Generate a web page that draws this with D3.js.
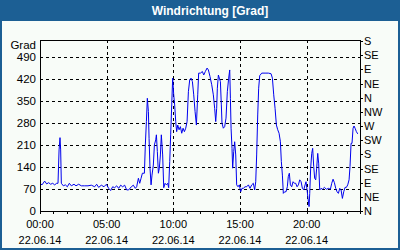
<!DOCTYPE html>
<html lang="de">
<head>
<meta charset="UTF-8">
<title>Windrichtung</title>
<script src="https://d3js.org/d3.v7.min.js"></script>
<style>
  body { margin: 0; background: #fff; }
  svg text { font-family: "Liberation Sans", Arial, sans-serif; fill: #000; }
  .grid line { stroke: #000; stroke-dasharray: 3,3; shape-rendering: crispEdges; }
  .grid .domain { display: none; }
  .axis .domain, .axis line { stroke: #000; shape-rendering: crispEdges; }
</style>
</head>
<body>
<script>
// Stunden (22.06.14) und Windrichtung in Grad
const hours = [0, 0.15, 0.35, 0.5, 0.65, 0.8, 0.95, 1.1, 1.25, 1.35, 1.43, 1.5, 1.55, 1.6, 1.75, 1.9,
  2.05, 2.2, 2.35, 2.55, 2.7, 2.9, 3.1, 3.35, 3.6, 3.85, 4.1, 4.25, 4.4, 4.6, 4.8, 4.98, 5.15, 5.3,
  5.45, 5.6, 5.75, 5.9, 6.05, 6.2, 6.35, 6.5, 6.65, 6.85, 7.0, 7.15, 7.25, 7.38, 7.48, 7.58, 7.68,
  7.83, 7.9, 7.98, 8.05, 8.13, 8.18, 8.25, 8.33, 8.4, 8.5, 8.58, 8.68, 8.73, 8.8, 8.88, 8.95, 9.03,
  9.1, 9.2, 9.28, 9.38, 9.48, 9.58, 9.65, 9.73, 9.8, 9.88, 9.95, 10.03, 10.1, 10.18, 10.25, 10.33,
  10.43, 10.53, 10.63, 10.73, 10.83, 10.93, 11.03, 11.13, 11.23, 11.33, 11.43, 11.53, 11.63, 11.73,
  11.83, 11.9, 12.03, 12.18, 12.28, 12.4, 12.53, 12.63, 12.75, 12.88, 13.0, 13.1, 13.18, 13.25,
  13.3, 13.38, 13.45, 13.53, 13.6, 13.65, 13.75, 13.85, 13.95, 14.05, 14.15, 14.23, 14.28, 14.33,
  14.4, 14.45, 14.53, 14.6, 14.68, 14.75, 14.85, 14.95, 15.05, 15.15, 15.25, 15.38, 15.5, 15.63,
  15.75, 15.88, 16.0, 16.1, 16.18, 16.25, 16.33, 16.4, 16.48, 16.63, 16.88, 17.13, 17.33, 17.43,
  17.53, 17.63, 17.73, 17.83, 17.93, 18.03, 18.1, 18.18, 18.25, 18.35, 18.45, 18.55, 18.62, 18.7,
  18.78, 18.88, 18.98, 19.08, 19.18, 19.28, 19.38, 19.48, 19.58, 19.68, 19.78, 19.88, 19.95, 20.03,
  20.1, 20.18, 20.23, 20.3, 20.38, 20.45, 20.53, 20.6, 20.68, 20.75, 20.83, 20.9, 20.98, 21.08,
  21.18, 21.33, 21.48, 21.63, 21.78, 21.88, 21.98, 22.08, 22.18, 22.28, 22.38, 22.48, 22.58, 22.68,
  22.78, 22.88, 22.98, 23.08, 23.18, 23.25, 23.33, 23.4, 23.48, 23.55, 23.63, 23.73, 23.83];
const grad = [88, 83, 95, 86, 90, 85, 88, 83, 88, 88, 194, 233, 194, 88, 80, 83,
  77, 88, 80, 85, 80, 85, 80, 80, 80, 82, 77, 85, 75, 82, 77, 85, 72, 65,
  77, 74, 80, 72, 82, 77, 82, 67, 67, 77, 82, 72, 77, 104, 88, 104, 120,
  120, 210, 284, 358, 316, 231, 136, 83, 114, 146, 210, 226, 242, 189, 120, 136, 178,
  242, 178, 74, 88, 83, 88, 74, 157, 242, 337, 422, 369, 337, 284, 252, 273,
  258, 268, 247, 263, 252, 263, 284, 379, 417, 422, 411, 369, 316, 273,
  369, 438, 438, 443, 432, 443, 454, 448, 427, 401, 369, 326, 284, 326,
  390, 432, 422, 411, 337, 279, 263, 268, 295, 379, 422, 448, 358, 263,
  199, 136, 189, 220, 178, 83, 77, 83, 61, 72, 72, 77, 77, 83,
  72, 83, 88, 67, 93, 178, 305, 390, 430, 438, 438, 438, 436, 422,
  369, 326, 273, 258, 247, 220, 157, 114, 56, 61, 61, 77, 109, 120,
  83, 77, 93, 88, 88, 77, 83, 99, 93, 72, 67, 83, 93, 67,
  40, 14, 56, 136, 183, 199, 141, 104, 99, 136, 183, 152, 67, 72,
  69, 75, 69, 72, 69, 88, 101, 90, 72, 61, 56, 72, 67, 40,
  61, 75, 75, 83, 99, 141, 215, 215, 263, 270, 263, 252, 245];

const leftTicks = [0, 70, 140, 210, 280, 350, 420, 490];
const rightTicks = [0, 45, 90, 135, 180, 225, 270, 315, 360, 405, 450, 495, 540];
const rightLabels = ["N", "NE", "E", "SE", "S", "SW", "W", "NW", "N", "NE", "E", "SE", "S"];
const timeTicks = [0, 5, 10, 15, 20];
const timeLabels = ["00:00", "05:00", "10:00", "15:00", "20:00"];
const dateLabel = "22.06.14";

const W = 400, H = 250;
const svg = d3.select("body").append("svg").attr("width", W).attr("height", H);

// Rahmen und Titelleiste
svg.append("rect").attr("width", W).attr("height", H).attr("fill", "#1c5f94");
svg.append("rect").attr("x", 2).attr("y", 21).attr("width", W - 4).attr("height", H - 23).attr("fill", "#f8fcf8");
svg.append("text").attr("x", 210).attr("y", 15).attr("text-anchor", "middle")
  .style("fill", "#fff").attr("font-weight", "bold").attr("font-size", "12px")
  .text("Windrichtung [Grad]");

const x = d3.scaleLinear().domain([0, 24]).range([40, 360]);
const y = d3.scaleLinear().domain([0, 540]).range([211, 41]);

// Gitter
svg.append("g").attr("class", "grid").attr("transform", "translate(40,0)")
  .call(d3.axisLeft(y).tickValues(leftTicks.slice(1)).tickSize(-320).tickFormat(""));
svg.append("g").attr("class", "grid").attr("transform", "translate(0,211)")
  .call(d3.axisBottom(x).tickValues(timeTicks.slice(1)).tickSize(-170).tickFormat(""));

// Linie
svg.append("path")
  .datum(hours.map((h, i) => [h, grad[i]]))
  .attr("fill", "none").attr("stroke", "#0000ee").attr("stroke-width", 1)
  .attr("d", d3.line().x(d => x(d[0])).y(d => y(d[1])));

// Rahmen des Diagramms
svg.append("rect").attr("x", 40.5).attr("y", 40.5).attr("width", 320).attr("height", 170.5)
  .attr("fill", "none").attr("stroke", "#000").attr("shape-rendering", "crispEdges");

// linke Achse
const la = svg.append("g").attr("class", "axis").attr("transform", "translate(40,0)")
  .call(d3.axisLeft(y).tickValues(leftTicks).tickSize(0).tickPadding(4));
la.select(".domain").remove();
la.selectAll("text").attr("font-size", "11.5px");
svg.append("text").attr("x", 36).attr("y", 49).attr("text-anchor", "end")
  .attr("font-size", "11.5px").text("Grad");

// rechte Achse
const ra = svg.append("g").attr("class", "axis").attr("transform", "translate(360,0)")
  .call(d3.axisRight(y).tickValues(rightTicks).tickSize(3).tickPadding(1)
    .tickFormat((d, i) => rightLabels[i]));
ra.select(".domain").remove();
ra.selectAll("text").attr("font-size", "11px");

// untere Achse
const ba = svg.append("g").attr("class", "axis").attr("transform", "translate(0,211)")
  .call(d3.axisBottom(x).tickValues(d3.range(0, 25)).tickSize(3).tickFormat(""));
ba.select(".domain").remove();
const bl = svg.append("g").selectAll("text").data(timeTicks).join("text")
  .attr("text-anchor", "middle").attr("font-size", "11px")
  .attr("x", d => x(d));
bl.append("tspan").attr("x", d => x(d)).attr("y", 228).text((d, i) => timeLabels[i]);
bl.append("tspan").attr("x", d => x(d)).attr("y", 244).text(dateLabel);
</script>
</body>
</html>
